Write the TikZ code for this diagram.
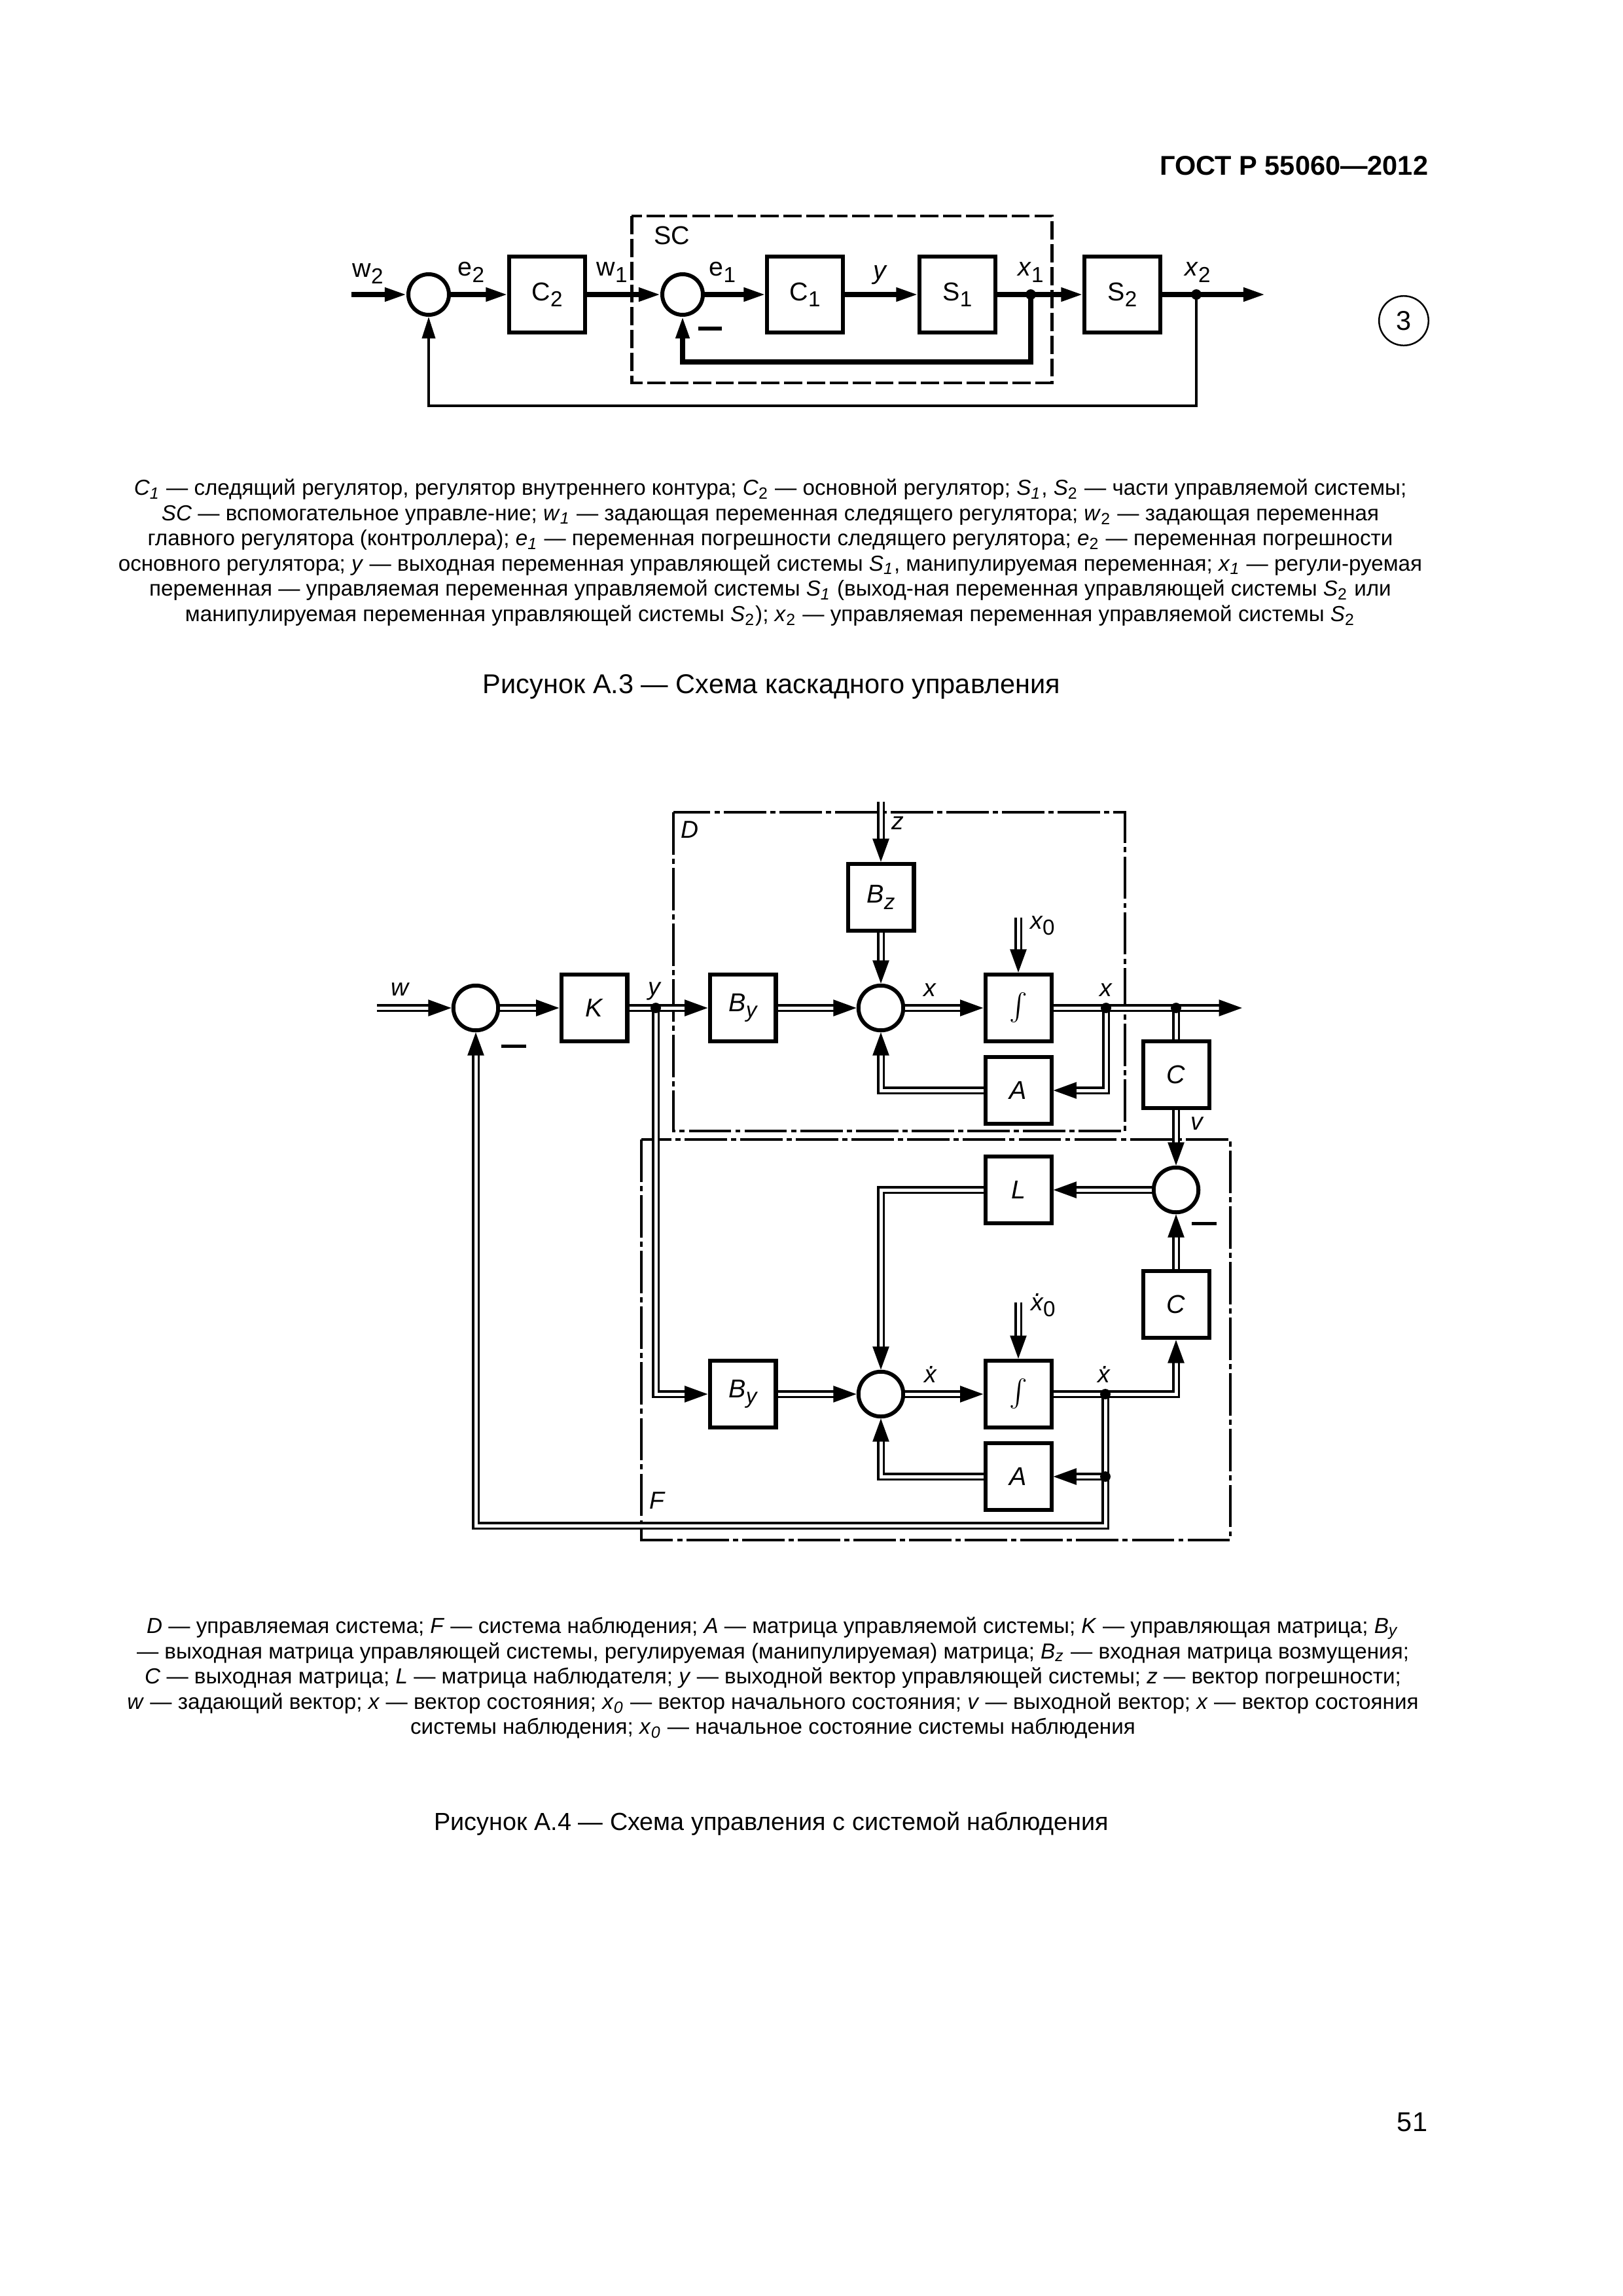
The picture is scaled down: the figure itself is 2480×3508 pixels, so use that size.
\documentclass[tikz,border=0pt]{standalone}
\usepackage{fontspec}
\setmainfont{Liberation Sans}
\usetikzlibrary{positioning,arrows.meta}

\newcommand\lsub[1]{\raisebox{-0.45ex}{\fontsize{8}{9}\selectfont\upshape #1}}
\newcommand\lsubi[1]{\raisebox{-0.45ex}{\fontsize{8}{9}\selectfont\itshape #1}}
\newcommand\vsub[2]{\textit{#1}\textsubscript{#2}}
\newcommand\xdt{\mbox{\itshape\rlap{x}\kern0.17em\raisebox{0.58em}{.}\kern0.05em}}

\begin{document}
\begin{tikzpicture}[x=0.08467mm,y=-0.08467mm,>={Triangle[length=2.8mm,width=1.7mm]},
  blk/.style={draw,line width=1.45pt,minimum width=9.75mm,minimum height=9.9mm,inner sep=0pt,font=\fontsize{9.5}{11}\selectfont},
  blkb/.style={draw,line width=1.45pt,minimum width=8.55mm,minimum height=8.65mm,inner sep=0pt,font=\fontsize{9.5}{11}\selectfont\itshape},
  sumc/.style={draw,circle,line width=1.45pt,minimum size=5.25mm,inner sep=0pt},
  sumb/.style={draw,circle,line width=1.45pt,minimum size=5.8mm,inner sep=0pt},
  sig/.style={line width=1.7pt},
  fb/.style={line width=0.85pt},
  dbl/.style={double,line width=0.8pt,double distance=1.2pt,>={Triangle[length=3mm,width=2.1mm]}},
  dot/.style={circle,fill,inner sep=0pt,minimum size=1.35mm},
  minus/.style={fill,inner sep=0pt,minimum width=3mm,minimum height=0.48mm},
  lbl/.style={inner sep=0pt,font=\fontsize{9.5}{11}\selectfont},
  ilbl/.style={inner sep=0pt,font=\fontsize{9}{11}\selectfont\itshape},
  intg/.style={font=\fontsize{14}{16}\selectfont},
  scbox/.style={line width=1.2pt,dash pattern=on 6.7pt off 1.7pt},
  dd/.style={line width=0.95pt,dash pattern=on 15.6pt off 1.5pt on 1.9pt off 1.5pt},
  txt/.style={inner sep=0pt,align=center,font=\fontsize{8}{9.3}\selectfont}]
\path[fill=white,use as bounding box] (0,0) rectangle (2480,3508);

\node[anchor=base east,inner sep=0pt,font=\fontsize{10}{12}\selectfont\bfseries] (hdr) at (2183,267) {ГОСТ Р 55060—2012};
\node[draw,circle,line width=0.6pt,minimum size=6.4mm,inner sep=0pt,font=\fontsize{10}{12}\selectfont] (three) at (2145,490) {3};

% cascade control
\draw[scbox] (965,330) rectangle (1607,585);
\node[lbl] (lsc) at (1027,360) {SC};
\coordinate (w2in) at (537,450);
\node[sumc] (s1) at (655,450) {};
\node[blk] (c2) at (836,450) {C\lsub{2}};
\node[sumc] (s2) at (1043,450) {};
\node[blk] (c1) at (1230,450) {C\lsub{1}};
\node[blk] (p1) at (1463,450) {S\lsub{1}};
\node[blk] (p2) at (1715,450) {S\lsub{2}};
\coordinate (j1) at (1575,450);
\coordinate (j2) at (1828,450);
\coordinate (x2out) at (1933,450);
\draw[sig,->] (w2in) -- (s1);
\draw[sig,->] (s1) -- (c2);
\draw[sig,->] (c2) -- (s2);
\draw[sig,->] (s2) -- (c1);
\draw[sig,->] (c1) -- (p1);
\draw[sig,->] (p1) -- (p2);
\draw[sig,->] (p2) -- (x2out);
\draw[sig,->] (j1) -- ++(0,103) -| (s2.south);
\draw[fb,->] (j2) -- ++(0,170) -| (s1.south);
\node[dot] (dj1) at (j1) {};
\node[dot] (dj2) at (j2) {};
\node[minus] (m2) at (1085,502) {};
\node[lbl] (lw2) at (562,418) {w\lsub{2}};
\node[lbl] (le2) at (720,416) {e\lsub{2}};
\node[lbl] (lw1) at (935,416) {w\lsub{1}};
\node[lbl] (le1) at (1104,416) {e\lsub{1}};
\node[lbl,font=\fontsize{9.5}{11}\selectfont\itshape] (ly) at (1344,420) {y};
\node[lbl] (lx1) at (1575,416) {\textit{x}\lsub{1}};
\node[lbl] (lx2) at (1830,416) {\textit{x}\lsub{2}};

\node[txt,anchor=north] (cap1) at (1177,731) {\vsub{C}{\textit{1}} — следящий регулятор, регулятор внутреннего контура; \vsub{C}{2} — основной регулятор; \vsub{S}{\textit{1}}, \vsub{S}{2} — части управляемой системы;\\
\textit{SC} — вспомогательное управле-ние; \vsub{w}{\textit{1}} — задающая переменная следящего регулятора; \vsub{w}{2} — задающая переменная\\
главного регулятора (контроллера); \vsub{e}{\textit{1}} — переменная погрешности следящего регулятора; \vsub{e}{2} — переменная погрешности\\
основного регулятора; \textit{y} — выходная переменная управляющей системы \vsub{S}{\textit{1}}, манипулируемая переменная; \vsub{x}{\textit{1}} — регули-руемая\\
переменная — управляемая переменная управляемой системы \vsub{S}{\textit{1}} (выход-ная переменная управляющей системы \vsub{S}{2} или\\
манипулируемая переменная управляющей системы \vsub{S}{2}); \vsub{x}{2} — управляемая переменная управляемой системы \vsub{S}{2}};
\node[anchor=base,inner sep=0pt,font=\fontsize{10}{12}\selectfont] (fig3) at (1179,1059) {Рисунок А.3 — Схема каскадного управления};

% control with observer
\draw[dd] (1029,1241) rectangle (1719,1728);
\draw[dd] (980,1741) rectangle (1880,2353);
\node[ilbl] (lD) at (1054,1268) {D};
\node[ilbl] (lF) at (1004,2293) {F};
\coordinate (win) at (576,1540);
\node[sumb] (sa) at (727,1540) {};
\node[blkb] (k) at (908,1540) {K};
\coordinate (jy) at (1002,1540);
\node[blkb] (by1) at (1135,1540) {B\lsubi{y}};
\node[sumb] (sb) at (1346,1540) {};
\node[blkb,intg] (int1) at (1556,1540) {$\int$};
\coordinate (jx1) at (1690,1540);
\coordinate (jx2) at (1797,1540);
\coordinate (xout) at (1898,1540);
\coordinate (zin) at (1346,1225);
\node[blkb] (bz) at (1346,1371) {B\lsubi{z}};
\coordinate (x0in) at (1556,1402);
\node[blkb] (a1) at (1556,1666) {A};
\node[blkb] (cc1) at (1797,1642) {C};
\node[sumb] (sc) at (1797,1818) {};
\node[blkb] (l) at (1556,1818) {L};
\node[blkb] (cc2) at (1797,1993) {C};
\node[blkb] (by2) at (1135,2130) {B\lsubi{y}};
\node[sumb] (sd) at (1346,2130) {};
\node[blkb,intg] (int2) at (1556,2130) {$\int$};
\coordinate (xd0in) at (1556,1990);
\coordinate (jx3) at (1689,2130);
\coordinate (jx4) at (1689,2256);
\node[blkb] (a2) at (1556,2256) {A};
\draw[dbl,->] (win) -- (sa);
\draw[dbl,->] (sa) -- (k);
\draw[dbl,->] (k) -- (by1);
\draw[dbl,->] (by1) -- (sb);
\draw[dbl,->] (sb) -- (int1);
\draw[dbl,->] (int1) -- (xout);
\draw[dbl,->] (zin) -- (bz);
\draw[dbl,->] (bz) -- (sb);
\draw[dbl,->] (x0in) -- (int1);
\draw[dbl,->] (jx1) |- (a1);
\draw[dbl,->] (a1) -| (sb);
\draw[dbl] (jx2) -- (cc1);
\draw[dbl,->] (cc1) -- (sc);
\draw[dbl,->] (sc) -- (l);
\draw[dbl,->] (l) -| (sd);
\draw[dbl,->] (jy) |- (by2);
\draw[dbl,->] (by2) -- (sd);
\draw[dbl,->] (sd) -- (int2);
\draw[dbl,->] (xd0in) -- (int2);
\draw[dbl,->] (int2) -| (cc2);
\draw[dbl,->] (cc2) -- (sc);
\draw[dbl,->] (jx4) -- (a2);
\draw[dbl,->] (a2) -| (sd);
\draw[dbl,->] (jx3) -- (1689,2331) -| (sa);
\node[dot] (djy) at (jy) {};
\node[dot] (djx1) at (jx1) {};
\node[dot] (djx2) at (jx2) {};
\node[dot] (djx3) at (jx3) {};
\node[dot] (djx4) at (jx4) {};
\node[minus,minimum width=3.2mm,minimum height=0.42mm] (ma) at (785,1598) {};
\node[minus,minimum width=3.2mm,minimum height=0.42mm] (mc) at (1840,1869) {};
\node[ilbl] (lw) at (611,1512) {w};
\node[ilbl] (lyb) at (1000,1514) {y};
\node[ilbl] (lxa) at (1421,1513) {x};
\node[ilbl] (lxb) at (1690,1513) {x};
\node[ilbl] (lz) at (1372,1258) {z};
\node[ilbl] (lx0) at (1593,1414) {x\lsub{0}};
\node[ilbl] (lv) at (1829,1717) {v};
\node[ilbl] (lxd1) at (1422,2100) {\xdt};
\node[ilbl] (lxd0) at (1594,1994) {\xdt\lsub{0}};
\node[ilbl] (lxd2) at (1687,2100) {\xdt};

\node[txt,anchor=north] (cap2) at (1181,2470) {\textit{D} — управляемая система; \textit{F} — система наблюдения; \textit{A} — матрица управляемой системы; \textit{K} — управляющая матрица; \vsub{B}{\textit{y}}\\
— выходная матрица управляющей системы, регулируемая (манипулируемая) матрица; \vsub{B}{\textit{z}} — входная матрица возмущения;\\
\textit{C} — выходная матрица; \textit{L} — матрица наблюдателя; \textit{y} — выходной вектор управляющей системы; \textit{z} — вектор погрешности;\\
\textit{w} — задающий вектор; \textit{x} — вектор состояния; \vsub{x}{\textit{0}} — вектор начального состояния; \textit{v} — выходной вектор; \textit{x} — вектор состояния\\
системы наблюдения; \vsub{x}{\textit{0}} — начальное состояние системы наблюдения};
\node[anchor=base,inner sep=0pt,font=\fontsize{9.1}{11}\selectfont] (fig4) at (1179,2796) {Рисунок А.4 — Схема управления с системой наблюдения};

\node[inner sep=0pt,font=\fontsize{10}{12}\selectfont] (pg) at (2158,3242) {51};
\end{tikzpicture}
\end{document}
